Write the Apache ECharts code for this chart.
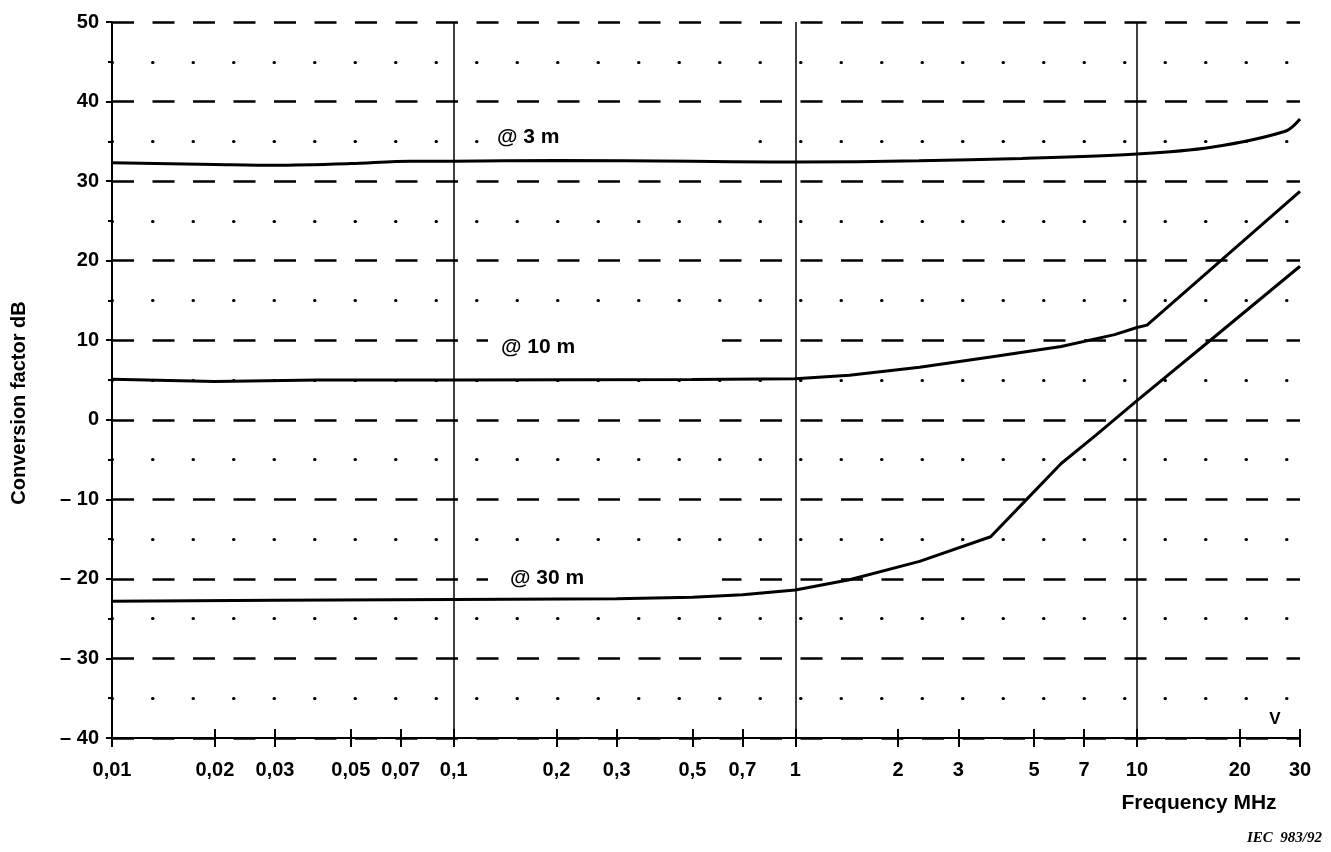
<!DOCTYPE html>
<html>
<head>
<meta charset="utf-8">
<script src="https://cdn.jsdelivr.net/npm/echarts@6/dist/echarts.min.js"></script>
<style>
html, body { margin: 0; padding: 0; background: #fff; }
#chart { width: 1331px; height: 852px; }
</style>
</head>
<body>
<div id="chart"></div>
<script>
// tick positions on the frequency axis (MHz)
var freqTicks = [0.01, 0.02, 0.03, 0.05, 0.07, 0.1, 0.2, 0.3, 0.5, 0.7, 1, 2, 3, 5, 7, 10, 20, 30];

// @ 3 m
var freq3m = [0.01, 0.02, 0.03, 0.05, 0.075, 0.1, 0.2, 0.5, 0.85, 1, 2.3, 4.6, 10, 16.5, 27.3, 30];
var cf3m   = [32.3, 32.1, 32.0, 32.2, 32.5, 32.5, 32.6, 32.5, 32.4, 32.4, 32.55, 32.85, 33.4, 34.25, 36.3, 37.8];

// @ 10 m
var freq10m = [0.01, 0.02, 0.04, 0.1, 0.5, 1, 1.44, 2.31, 3.73, 6.0, 8.6, 10, 10.7, 30];
var cf10m   = [5.1, 4.8, 5.0, 5.0, 5.05, 5.15, 5.6, 6.6, 7.9, 9.2, 10.7, 11.6, 11.9, 28.7];

// @ 30 m
var freq30m = [0.01, 0.03, 0.1, 0.3, 0.5, 0.7, 1, 1.44, 2.31, 3.73, 4.73, 6.0, 7.6, 10, 16.4, 30];
var cf30m   = [-22.8, -22.7, -22.6, -22.5, -22.3, -22.0, -21.4, -20.1, -17.8, -14.7, -10.1, -5.5, -1.9, 2.4, 10.0, 19.3];

function pairs(xs, ys) {
    var out = [];
    for (var i = 0; i < xs.length; i++) out.push([xs[i], ys[i]]);
    return out;
}

var myChart = echarts.init(document.getElementById('chart'));
var FONT = '"Liberation Sans", Arial, sans-serif';

function curve(name, xs, ys, smooth) {
    return {
        name: name,
        type: 'line',
        data: pairs(xs, ys),
        showSymbol: false,
        symbol: 'none',
        smooth: smooth,
        lineStyle: { color: '#000', width: 3 },
        z: 3
    };
}

function curveLabel(text, x, y) {
    return [
        { type: 'rect', z: 5, shape: { x: 488, y: y - 12, width: 234, height: 24 }, style: { fill: '#fff' } },
        { type: 'text', z: 6, x: x, y: y, style: { text: text, fill: '#000', font: 'bold 21px ' + FONT, textAlign: 'left', textVerticalAlign: 'middle' } }
    ];
}

// extra log axes that only carry the crossing tick marks
function tickAxis(inside) {
    return {
        type: 'log',
        logBase: 10,
        min: 0.01,
        max: 30,
        position: 'bottom',
        axisLine: { show: false, onZero: false },
        axisTick: { show: true, inside: inside, customValues: freqTicks, length: 9, lineStyle: { color: '#000', width: 2 } },
        axisLabel: { show: false },
        splitLine: { show: false }
    };
}

var option = {
    backgroundColor: '#fff',
    animation: false,
    grid: { left: 112, right: 31, top: 22, bottom: 114, containLabel: false },
    xAxis: [{
        type: 'log',
        logBase: 10,
        min: 0.01,
        max: 30,
        axisLine: { show: true, onZero: false, lineStyle: { color: '#000', width: 2 } },
        axisTick: { show: false },
        axisLabel: {
            customValues: freqTicks,
            margin: 22,
            color: '#000',
            fontFamily: FONT,
            fontWeight: 'bold',
            fontSize: 20,
            formatter: function (v) {
                return String(Number(v.toPrecision(3))).replace('.', ',');
            }
        },
        splitLine: { show: true, showMaxLine: false, lineStyle: { color: '#000', width: 1.5 } },
        minorSplitLine: { show: false }
    }, tickAxis(true), tickAxis(false)],
    yAxis: {
        type: 'value',
        min: -40,
        max: 50,
        interval: 10,
        axisLine: { show: true, onZero: false, lineStyle: { color: '#000', width: 2 } },
        axisTick: { show: true, length: 6, lineStyle: { color: '#000', width: 2 } },
        minorTick: { show: true, splitNumber: 2, length: 4, lineStyle: { color: '#000', width: 2 } },
        axisLabel: {
            margin: 13,
            color: '#000',
            fontFamily: FONT,
            fontWeight: 'bold',
            fontSize: 20,
            formatter: function (v) {
                return v < 0 ? '\u2013 ' + (-v) : String(v);
            }
        },
        splitLine: { show: true, lineStyle: { color: '#000', width: 2.5, type: [22, 18.5] } },
        minorSplitLine: { show: true, lineStyle: { color: '#000', width: 3, type: [0.5, 40], cap: 'round' } }
    },
    series: [
        curve('@ 3 m', freq3m, cf3m, 0.3),
        curve('@ 10 m', freq10m, cf10m, false),
        curve('@ 30 m', freq30m, cf30m, false)
    ],
    graphic: [].concat(
        curveLabel('@ 3 m', 497, 137),
        curveLabel('@ 10 m', 501, 347),
        curveLabel('@ 30 m', 510, 578),
        [
            { type: 'text', x: 19, y: 403, rotation: Math.PI / 2, style: { text: 'Conversion factor dB', fill: '#000', font: 'bold 20px ' + FONT, textAlign: 'center', textVerticalAlign: 'middle' } },
            { type: 'text', x: 1199, y: 803, style: { text: 'Frequency MHz', fill: '#000', font: 'bold 21px ' + FONT, textAlign: 'center', textVerticalAlign: 'middle' } },
            { type: 'text', x: 1322, y: 838, style: { text: 'IEC  983/92', fill: '#000', font: 'italic bold 15px "Liberation Serif", serif', textAlign: 'right', textVerticalAlign: 'middle' } },
            { type: 'text', x: 1275, y: 719, style: { text: 'V', fill: '#000', font: 'bold 17px ' + FONT, textAlign: 'center', textVerticalAlign: 'middle' } }
        ]
    )
};

myChart.setOption(option);
</script>
</body>
</html>
